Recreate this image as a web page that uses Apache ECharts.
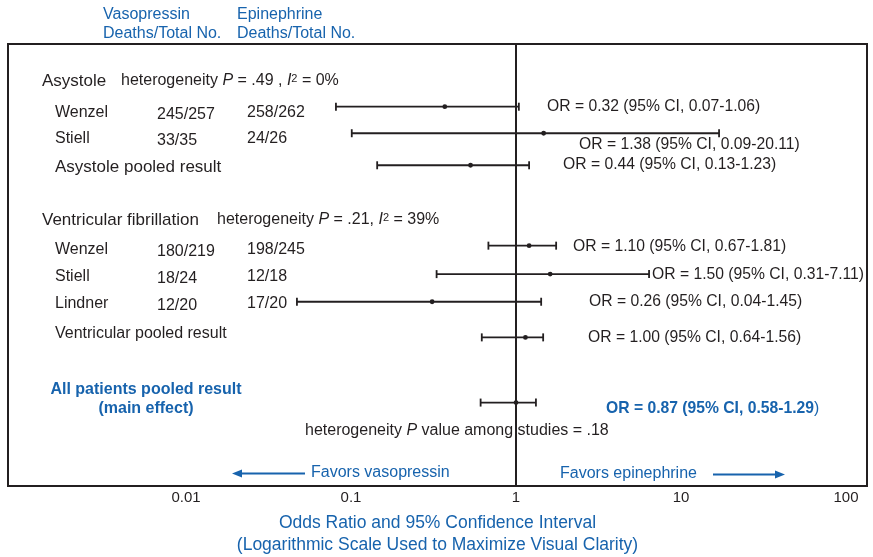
<!DOCTYPE html>
<html>
<head>
<meta charset="utf-8">
<script src="https://cdn.jsdelivr.net/npm/echarts@6/dist/echarts.min.js"></script>
<style>
  html, body { margin: 0; padding: 0; background: #fff; }
  #chart { width: 873px; height: 557px; }
</style>
</head>
<body>
<div id="chart"></div>
<script>
const ink = '#231f20';
const blue = '#1763ad';
const font = '"Liberation Sans", Arial, Helvetica, sans-serif';

// axis ticks (odds ratio, log scale)
const xTicks = [0.01, 0.1, 1, 10, 100];

// studies, top to bottom
const studyNames = ['Wenzel', 'Stiell', 'Asystole pooled result', 'Wenzel', 'Stiell', 'Lindner',
  'Ventricular pooled result', 'All patients pooled result\n(main effect)'];
const vasoDeaths = ['245/257', '33/35', '', '180/219', '18/24', '12/20', '', ''];
const epiDeaths = ['258/262', '24/26', '', '198/245', '12/18', '17/20', '', ''];
// printed values
const orPrinted = ['0.32', '1.38', '0.44', '1.10', '1.50', '0.26', '1.00', '0.87'];
const ciPrinted = ['0.07-1.06', '0.09-20.11', '0.13-1.23', '0.67-1.81', '0.31-7.11', '0.04-1.45', '0.64-1.56', '0.58-1.29'];
// values as drawn in the figure
const orDrawn = [0.37, 1.47, 0.53, 1.20, 1.61, 0.31, 1.14, 1.00];
const ciLowDrawn = [0.081, 0.101, 0.144, 0.68, 0.33, 0.047, 0.62, 0.61];
const ciHighDrawn = [1.04, 17.0, 1.20, 1.75, 6.4, 1.42, 1.46, 1.32];

// subgroup headers
const sectionNames = ['Asystole', 'Ventricular fibrillation'];
const sectionP = ['.49 ,', '.21,'];
const sectionI2 = ['0%', '39%'];
const overallP = '.18';

// row placement on the (hidden) y axis, 0 = top of frame
const barRow = [2.27, 3.23, 4.39, 7.30, 8.33, 9.33, 10.62, 12.98];
const nameRow = [2.50, 3.42, 4.45, 7.46, 8.43, 9.41, 10.50, 12.87];
const orLabelRow = [2.27, 3.66, 4.38, 7.34, 8.34, 9.33, 10.63, 13.19];
const orLabelX = [547, 579, 563, 573, 652, 589, 588, 606];
const sectionRow = [1.34, 6.37];
const sectionHetX = [121, 217];

const lg = v => Math.log10(v);

function txt(x, y, text, extra) {
  return {
    type: 'text', x: x, y: y,
    style: Object.assign({
      text: text, fill: ink, fontSize: 16, fontFamily: font,
      align: 'left', verticalAlign: 'middle'
    }, extra || {})
  };
}

function renderStudy(params, api) {
  const i = params.dataIndex;
  const cs = params.coordSys;
  const y = api.value(3);
  const lo = api.coord([api.value(0), y]);
  const hi = api.coord([api.value(1), y]);
  const mid = api.coord([api.value(2), y]);
  const ty = api.coord([0, nameRow[i]])[1];
  const ly = api.coord([0, orLabelRow[i]])[1];
  const main = i === studyNames.length - 1;
  const ls = { stroke: ink, lineWidth: 1.8 };
  const children = [
    { type: 'line', shape: { x1: lo[0], y1: lo[1], x2: hi[0], y2: hi[1] }, style: ls },
    { type: 'line', shape: { x1: lo[0], y1: lo[1] - 4, x2: lo[0], y2: lo[1] + 4 }, style: ls },
    { type: 'line', shape: { x1: hi[0], y1: hi[1] - 4, x2: hi[0], y2: hi[1] + 4 }, style: ls },
    { type: 'circle', shape: { cx: mid[0], cy: mid[1], r: 2.4 }, style: { fill: ink } }
  ];
  if (main) {
    children.push(txt(cs.x + 138, ty, studyNames[i], {
      fill: blue, fontWeight: 'bold', align: 'center', lineHeight: 19
    }));
    children.push(txt(orLabelX[i], ly,
      '{b|OR = ' + orPrinted[i] + ' (95% CI, ' + ciPrinted[i] + '}{n|)}', {
        fill: blue,
        rich: {
          b: { fill: blue, color: blue, fontWeight: 'bold', fontSize: 15.7, fontFamily: font },
          n: { fill: blue, color: blue, fontSize: 15.7, fontFamily: font }
        }
      }));
  } else {
    children.push(txt(cs.x + 47, ty, studyNames[i], i === 2 ? { fontSize: 17 } : null));
    if (vasoDeaths[i]) children.push(txt(cs.x + 149, ty + 2, vasoDeaths[i]));
    if (epiDeaths[i]) children.push(txt(cs.x + 239, ty, epiDeaths[i]));
    children.push(txt(orLabelX[i], ly, 'OR = ' + orPrinted[i] + ' (95% CI, ' + ciPrinted[i] + ')',
      { fontSize: 15.7 }));
  }
  return { type: 'group', children: children };
}

function renderSection(params, api) {
  const i = params.dataIndex;
  const cs = params.coordSys;
  const y = api.coord([0, api.value(0)])[1];
  return {
    type: 'group',
    children: [
      txt(cs.x + 34, y, sectionNames[i], { fontSize: 17 }),
      txt(sectionHetX[i], y,
        'heterogeneity {i|P} = ' + sectionP[i] + ' {i|I}{s|2} = ' + sectionI2[i], {
          rich: {
            i: { fontStyle: 'italic', fontSize: 16, fontFamily: font, fill: ink },
            s: { fontSize: 11, fontFamily: font, fill: ink, verticalAlign: 'top' }
          }
        })
    ]
  };
}

const chart = echarts.init(document.getElementById('chart'), null, { renderer: 'canvas' });

chart.setOption({
  backgroundColor: '#fff',
  animation: false,
  grid: {
    left: 8, right: 6, top: 44, bottom: 71,
    outerBoundsMode: 'none',
    containLabel: false,
    show: true, borderColor: ink, borderWidth: 2, backgroundColor: 'transparent'
  },
  xAxis: {
    type: 'value',
    min: -3.079,
    max: 2.127,
    axisLine: { show: false },
    axisTick: { show: false },
    splitLine: { show: false },
    axisLabel: {
      customValues: xTicks.map(lg),
      formatter: v => String(xTicks.find(t => Math.abs(lg(t) - v) < 1e-6)),
      color: ink, fontSize: 15, fontFamily: font, margin: 4
    },
    name: 'Odds Ratio and 95% Confidence Interval\n(Logarithmic Scale Used to Maximize Visual Clarity)',
    nameLocation: 'middle',
    nameGap: 26,
    nameTextStyle: { color: blue, fontSize: 17.5, fontFamily: font, lineHeight: 22 }
  },
  yAxis: { type: 'value', inverse: true, min: 0, max: 16, show: false },
  series: [
    {
      type: 'custom',
      name: 'studies',
      renderItem: renderStudy,
      encode: { x: [0, 1, 2], y: 3 },
      data: studyNames.map((_, i) => [lg(ciLowDrawn[i]), lg(ciHighDrawn[i]), lg(orDrawn[i]), barRow[i]]),
      markLine: {
        silent: true,
        symbol: ['none', 'none'],
        label: { show: false },
        lineStyle: { color: ink, width: 2, type: 'solid' },
        data: [{ xAxis: 0 }]
      }
    },
    {
      type: 'custom',
      name: 'sections',
      renderItem: renderSection,
      encode: { y: 0 },
      data: sectionRow.map(r => [r])
    }
  ],
  graphic: [
    { type: 'text', left: 103, top: 5,
      style: { text: 'Vasopressin\nDeaths/Total No.', fill: blue, fontSize: 16, fontFamily: font, lineHeight: 19 } },
    { type: 'text', left: 237, top: 5,
      style: { text: 'Epinephrine\nDeaths/Total No.', fill: blue, fontSize: 16, fontFamily: font, lineHeight: 19 } },
    { type: 'text', left: 305, top: 423,
      style: {
        text: 'heterogeneity {i|P} value among studies = ' + overallP,
        fill: ink, fontSize: 16, fontFamily: font,
        rich: { i: { fontStyle: 'italic', fontSize: 16, fontFamily: font, fill: ink } }
      } },
    { type: 'text', left: 311, top: 465,
      style: { text: 'Favors vasopressin', fill: blue, fontSize: 16, fontFamily: font } },
    { type: 'text', left: 560, top: 466,
      style: { text: 'Favors epinephrine', fill: blue, fontSize: 16, fontFamily: font } },
    { type: 'line', shape: { x1: 305, y1: 473.5, x2: 240, y2: 473.5 }, style: { stroke: blue, lineWidth: 2 } },
    { type: 'polygon', shape: { points: [[232, 473.5], [242, 469.5], [242, 477.5]] }, style: { fill: blue } },
    { type: 'line', shape: { x1: 713, y1: 474.5, x2: 776, y2: 474.5 }, style: { stroke: blue, lineWidth: 2 } },
    { type: 'polygon', shape: { points: [[785, 474.5], [775, 470.5], [775, 478.5]] }, style: { fill: blue } }
  ]
});
</script>
</body>
</html>
